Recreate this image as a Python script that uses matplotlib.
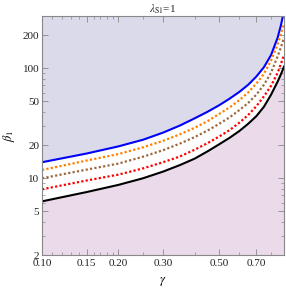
import matplotlib
matplotlib.use("Agg")
import matplotlib.pyplot as plt
from matplotlib.ticker import FixedLocator, NullFormatter

gamma = [0.10, 0.15, 0.20, 0.25, 0.30, 0.35, 0.40, 0.45, 0.50, 0.55,
         0.60, 0.65, 0.70, 0.75, 0.80, 0.85, 0.875, 0.90]

beta_blue = [14.0, 16.8, 19.5, 22.4, 26.0, 30.2, 35.1, 40.3, 46.2, 53.1,
             61.0, 70.8, 84.1, 102.3, 131.8, 190.5, 245.5, 331]
beta_orange = [11.9, 14.5, 16.6, 19.1, 21.9, 25.1, 28.8, 33.1, 38.5, 44.2,
               51.3, 60.3, 72.4, 89.1, 117.5, 166, 204, 257]
beta_brown = [10.0, 12.0, 13.6, 15.7, 18.0, 20.7, 23.7, 27.2, 31.3, 35.9,
              41.7, 48.4, 57.5, 70.8, 91.2, 128.8, 154.9, 190.5]
beta_red = [7.94, 9.55, 10.8, 12.3, 14.0, 15.8, 18.2, 20.9, 24.0, 27.5,
            32.0, 37.6, 45.2, 55.6, 69.2, 91.2, 109.6, 131.8]
beta_black = [6.17, 7.50, 8.71, 10.0, 11.5, 13.2, 15.1, 17.6, 20.4, 23.4,
              26.9, 31.3, 36.7, 44.7, 57.5, 75.9, 88.1, 103.5]

x_ticks = [0.10, 0.15, 0.20, 0.30, 0.50, 0.70]
x_ticklabels = ["0.10", "0.15", "0.20", "0.30", "0.50", "0.70"]
y_ticks = [2, 5, 10, 20, 50, 100, 200]
y_ticklabels = ["2", "5", "10", "20", "50", "100", "200"]

plt.rcParams['font.family'] = ['Liberation Serif', 'DejaVu Serif']
plt.rcParams['mathtext.fontset'] = 'stix'

fig = plt.figure(figsize=(2.86, 2.95), dpi=100)
ax = fig.add_axes([42/286, 1-255.2/295, 242/286, (255.2-15.8)/295])
ax.set_xscale('log')
ax.set_yscale('log')
ax.set_xlim(0.1, 0.9)
ax.set_ylim(2, 300)

ax.fill_between(gamma, beta_blue, 1000, color='#dadaeb', lw=0)
ax.fill_between(gamma, 1, beta_black, color='#eadaea', lw=0)

ax.plot(gamma, beta_blue, color='#0000ff', lw=1.5)
ax.plot(gamma, beta_orange, color='#ff8000', lw=1.6, ls=(0, (1, 1)))
ax.plot(gamma, beta_brown, color='#9c6a40', lw=1.6, ls=(0, (1, 1)))
ax.plot(gamma, beta_red, color='#ff0000', lw=1.6, ls=(0, (1, 1)))
ax.plot(gamma, beta_black, color='#000000', lw=1.5)

ax.xaxis.set_major_locator(FixedLocator(x_ticks))
ax.set_xticklabels(x_ticklabels)
ax.xaxis.set_minor_locator(FixedLocator([0.11, 0.12, 0.13, 0.14, 0.16, 0.17, 0.18, 0.19,
                                         0.25, 0.4, 0.6, 0.8, 0.9]))
ax.xaxis.set_minor_formatter(NullFormatter())
ax.yaxis.set_major_locator(FixedLocator(y_ticks))
ax.set_yticklabels(y_ticklabels)
ax.yaxis.set_minor_locator(FixedLocator([3, 4, 6, 7, 8, 9, 30, 40, 60, 70, 80, 90, 300]))
ax.yaxis.set_minor_formatter(NullFormatter())

ax.tick_params(which='both', direction='in', top=True, right=True, color='#888888',
               labelsize=8, labelcolor='#222222')
ax.tick_params(axis='x', pad=3)
ax.tick_params(axis='y', pad=2)
ax.tick_params(which='major', length=4, width=0.6)
ax.tick_params(which='minor', length=2, width=0.5)
for s in ax.spines.values():
    s.set_color('#888888')
    s.set_linewidth(0.8)

ax.set_title(r'$\lambda_{\rm S1}$=1', fontsize=8, pad=2, color='#222222')
ax.set_xlabel(r'$\gamma$', fontsize=9, labelpad=5)
ax.set_ylabel(r'$\beta_1$', fontsize=9, labelpad=4)

fig.savefig('out.png', dpi=100)
